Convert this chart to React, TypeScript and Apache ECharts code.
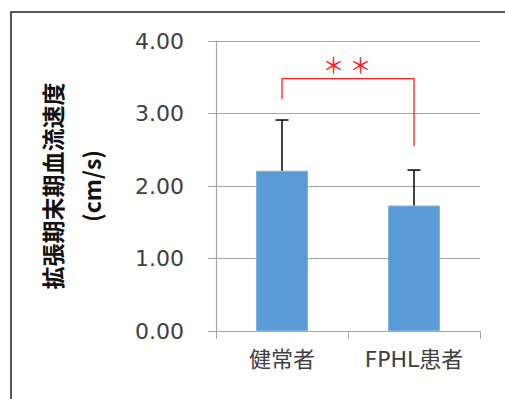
import React, { useEffect, useRef } from "react";
import * as echarts from "echarts";

const categories = ["健常者", "FPHL患者"];
const meanValues = [2.21, 1.73];
const errorTops = [2.91, 2.22];
const yTicks = [0, 1, 2, 3, 4];
const bracketTop = 3.48;
const bracketLeftBottom = 3.2;
const bracketRightBottom = 2.55;
const starText = "＊ ＊";
const yAxisTitle = "拡張期末期血流速度\n(cm/s)";

export default function App() {
  const ref = useRef<HTMLDivElement>(null);
  useEffect(() => {
    const chart = echarts.init(ref.current!, null, { renderer: "svg" });
    const txt = "#404040";
    const font = "'DejaVu Sans', 'Noto Sans CJK JP', sans-serif";
    chart.setOption({
      animation: false,
      graphic: [
        {
          type: "rect",
          shape: { x: 11, y: 12, width: 600, height: 500 },
          style: { fill: "none", stroke: "#222", lineWidth: 1.5 },
          silent: true,
        },
      ],
      grid: { left: 216, right: 25, top: 41, bottom: 68 },
      xAxis: {
        type: "category",
        data: categories,
        axisLine: { lineStyle: { color: "#a6a6a6", width: 1.2 } },
        axisTick: { show: true, length: 8, lineStyle: { color: "#a6a6a6" } },
        axisLabel: { color: txt, fontSize: 22, fontFamily: font, margin: 17 },
      },
      yAxis: {
        type: "value",
        min: yTicks[0],
        max: yTicks[yTicks.length - 1],
        interval: 1,
        name: yAxisTitle,
        nameLocation: "middle",
        nameRotate: 90,
        nameGap: 106,
        nameTextStyle: {
          color: "#111",
          fontSize: 23,
          fontWeight: "bold",
          fontFamily: "'Noto Sans CJK JP', sans-serif",
          lineHeight: 39,
        },
        axisLine: { show: true, lineStyle: { color: "#a6a6a6", width: 1.2 } },
        axisTick: { show: true, inside: false, length: 8, lineStyle: { color: "#a6a6a6" } },
        splitLine: { lineStyle: { color: "#a6a6a6", width: 1.2 } },
        axisLabel: {
          color: txt,
          fontSize: 22,
          fontFamily: font,
          margin: 32,
          formatter: (v: number) => v.toFixed(2),
        },
      },
      series: [
        {
          type: "bar",
          data: meanValues,
          barWidth: 52,
          itemStyle: { color: "#5B9BD5", borderColor: "#7fb2e0", borderWidth: 1 },
        },
        {
          type: "custom",
          data: meanValues.map((v, i) => [i, v, errorTops[i]]),
          z: 5,
          renderItem: (params: any, api: any) => {
            const i = api.value(0);
            const lo = api.coord([i, api.value(1)]);
            const hi = api.coord([i, api.value(2)]);
            const style = { stroke: "#000", lineWidth: 1.5 };
            return {
              type: "group",
              children: [
                { type: "line", shape: { x1: lo[0], y1: lo[1], x2: hi[0], y2: hi[1] }, style },
                { type: "line", shape: { x1: hi[0] - 6.5, y1: hi[1], x2: hi[0] + 6.5, y2: hi[1] }, style },
              ],
            };
          },
        },
        {
          type: "custom",
          data: [[0, 1, bracketTop, bracketLeftBottom, bracketRightBottom]],
          z: 6,
          renderItem: (params: any, api: any) => {
            const a = api.value(0);
            const b = api.value(1);
            const topL = api.coord([a, api.value(2)]);
            const topR = api.coord([b, api.value(2)]);
            const botL = api.coord([a, api.value(3)]);
            const botR = api.coord([b, api.value(4)]);
            return {
              type: "group",
              children: [
                {
                  type: "polyline",
                  shape: { points: [botL, topL, topR, botR] },
                  style: { stroke: "#ff2020", lineWidth: 1.3, fill: "none" },
                },
                {
                  type: "text",
                  style: {
                    text: starText,
                    x: (topL[0] + topR[0]) / 2 - 1,
                    y: topL[1] - 16,
                    align: "center",
                    verticalAlign: "middle",
                    fill: "#ff2020",
                    fontSize: 22,
                    fontFamily: "'Noto Sans CJK JP', sans-serif",
                  },
                },
              ],
            };
          },
        },
      ],
    });
    return () => chart.dispose();
  }, []);
  return (
    <div
      ref={ref}
      style={{ position: "fixed", left: 0, top: 0, width: 505, height: 399, background: "#fff" }}
    />
  );
}
